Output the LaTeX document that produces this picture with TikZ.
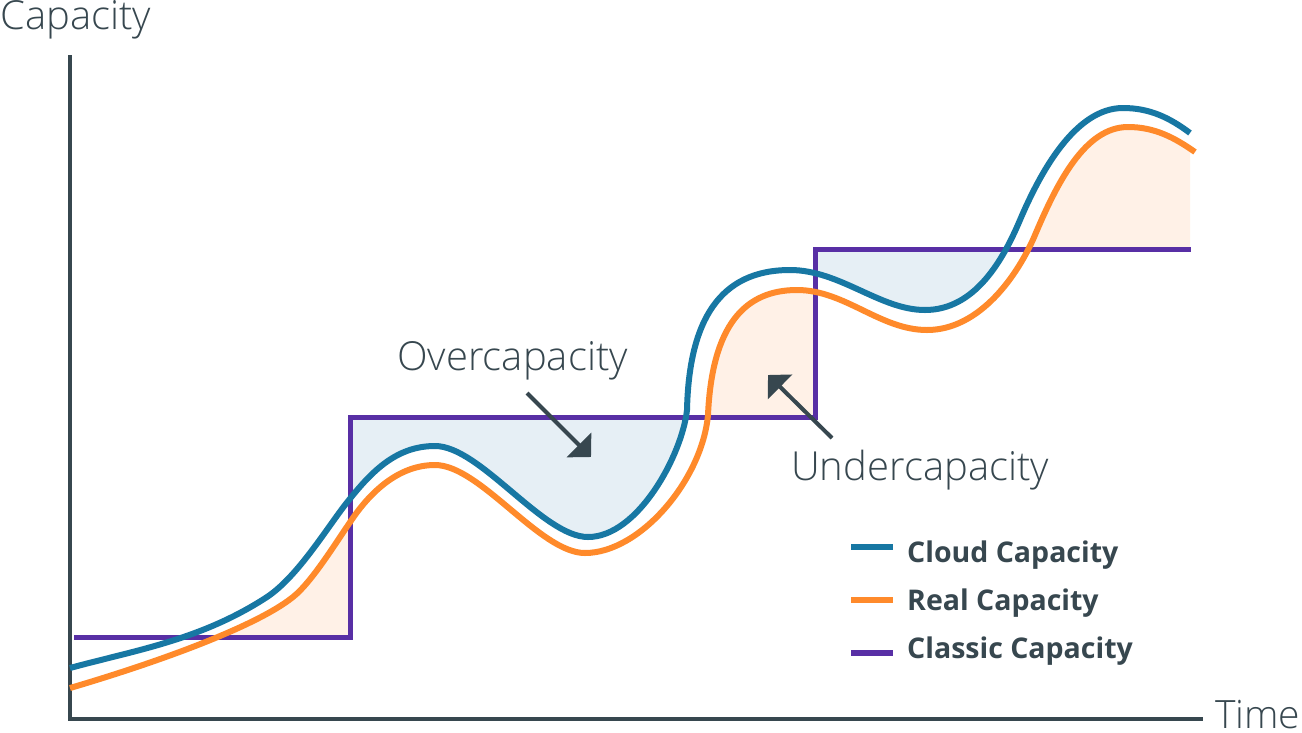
\documentclass[tikz,border=0pt]{standalone}
\usepackage{fontspec}
\setmainfont{Open Sans}
\newfontfamily\lightfont{Open Sans Light}
\usetikzlibrary{arrows.meta}
\definecolor{axisc}{RGB}{55,71,79}
\definecolor{cloudc}{RGB}{23,119,163}
\definecolor{realc}{RGB}{255,138,43}
\definecolor{classicc}{RGB}{88,47,165}
\definecolor{cloudfill}{RGB}{230,239,245}
\definecolor{realfill}{RGB}{255,241,231}
\newcommand\cloudpath[3]{\path[#1] #2 (70,668)
  .. controls (136,650) and (201,640) .. (267,597)
  .. controls (297,577) and (325,531) .. (345,505)
  .. controls (370,473) and (395,446) .. (435,446)
  .. controls (480,446) and (543,537) .. (588,537)
  .. controls (638,537) and (682,455) .. (687,410)
  .. controls (689,320) and (720,270) .. (790,270)
  .. controls (840,270) and (880,310) .. (925,310)
  .. controls (975,310) and (1003,260) .. (1020,220)
  .. controls (1040,173) and (1075,108) .. (1123,108)
  .. controls (1150,108) and (1170,118) .. (1190,133) #3;}
\newcommand\realpath[3]{\path[#1] #2 (70,688)
  .. controls (145,666) and (253,629) .. (293,597)
  .. controls (313,581) and (338,539) .. (355,515)
  .. controls (373,490) and (400,465) .. (435,465)
  .. controls (480,465) and (540,553) .. (585,553)
  .. controls (640,553) and (702,480) .. (708,415)
  .. controls (712,325) and (745,290) .. (797,290)
  .. controls (845,290) and (880,330) .. (927,330)
  .. controls (980,330) and (1018,275) .. (1035,235)
  .. controls (1057,183) and (1085,127) .. (1128,127)
  .. controls (1155,127) and (1175,138) .. (1195,152) #3;}
\tikzset{
  lightlabel/.style={anchor=base west,inner sep=0pt,text=axisc,font=\lightfont\fontsize{40}{42}\selectfont},
  legendlabel/.style={anchor=base west,inner sep=0pt,text=axisc,font=\fontsize{28.5}{32}\selectfont\bfseries},
  axisline/.style={draw=axisc,line width=4pt},
  pointer/.style={draw=axisc,line width=4pt,-{Triangle[length=17pt,width=34pt]}},
  legendline/.style={line width=6pt}
}
\begin{document}
\begin{tikzpicture}[x=1pt,y=-1pt]
\useasboundingbox[fill=white] (0,0) rectangle (1302,732);
% fills
\begin{scope}
  \clip (350,417) rectangle (815,732);
  \cloudpath{fill=cloudfill}{(70,0) --}{-- (1190,0) -- cycle}
\end{scope}
\begin{scope}
  \clip (815,249) rectangle (1190,732);
  \cloudpath{fill=cloudfill}{(70,0) --}{-- (1190,0) -- cycle}
\end{scope}
\begin{scope}
  \clip (70,0) rectangle (350,637);
  \realpath{fill=realfill}{(70,732) --}{-- (1195,732) -- cycle}
\end{scope}
\begin{scope}
  \clip (350,0) rectangle (815,417);
  \realpath{fill=realfill}{(70,732) --}{-- (1195,732) -- cycle}
\end{scope}
\begin{scope}
  \clip (815,0) rectangle (1190,249);
  \realpath{fill=realfill}{(70,732) --}{-- (1195,732) -- cycle}
\end{scope}
% axes
\coordinate (ytop) at (70,55);
\coordinate (origin) at (70,719);
\coordinate (xend) at (1203,719);
\draw[axisline] (ytop) -- (origin) -- (xend);
% classic capacity
\coordinate (c0) at (74,637);
\coordinate (c1) at (350,637);
\coordinate (c2) at (350,417);
\coordinate (c3) at (815,417);
\coordinate (c4) at (815,249);
\coordinate (c5) at (1191,249);
\draw[classicc,line width=5pt] (c0) -- (c1) -- (c2) -- (c3) -- (c4) -- (c5);
% curves
\realpath{draw=realc,line width=6pt}{}{}
\cloudpath{draw=cloudc,line width=6pt}{}{}
% labels
\node[lightlabel] (ylab) at (0,29) {Capacity};
\node[lightlabel,font=\lightfont\fontsize{39}{40}\selectfont] (xlab) at (1215,728) {Time};
\node[lightlabel] (over) at (397,370) {Overcapacity};
\node[lightlabel] (under) at (791,480) {Undercapacity};
% pointers
\coordinate (o1) at (527,393);
\coordinate (o2) at (591,457);
\draw[pointer] (o1) -- (o2);
\coordinate (u1) at (832,438);
\coordinate (u2) at (768,375);
\draw[pointer] (u1) -- (u2);
% legend
\coordinate (l1a) at (851,547); \coordinate (l1b) at (893,547);
\coordinate (l2a) at (851,600); \coordinate (l2b) at (893,600);
\coordinate (l3a) at (851,653); \coordinate (l3b) at (893,653);
\draw[legendline,cloudc] (l1a) -- (l1b);
\draw[legendline,realc] (l2a) -- (l2b);
\draw[legendline,classicc] (l3a) -- (l3b);
\node[legendlabel] (leg1) at (907,562) {Cloud Capacity};
\node[legendlabel] (leg2) at (907,610) {Real Capacity};
\node[legendlabel] (leg3) at (907,658) {Classic Capacity};
\end{tikzpicture}
\end{document}
